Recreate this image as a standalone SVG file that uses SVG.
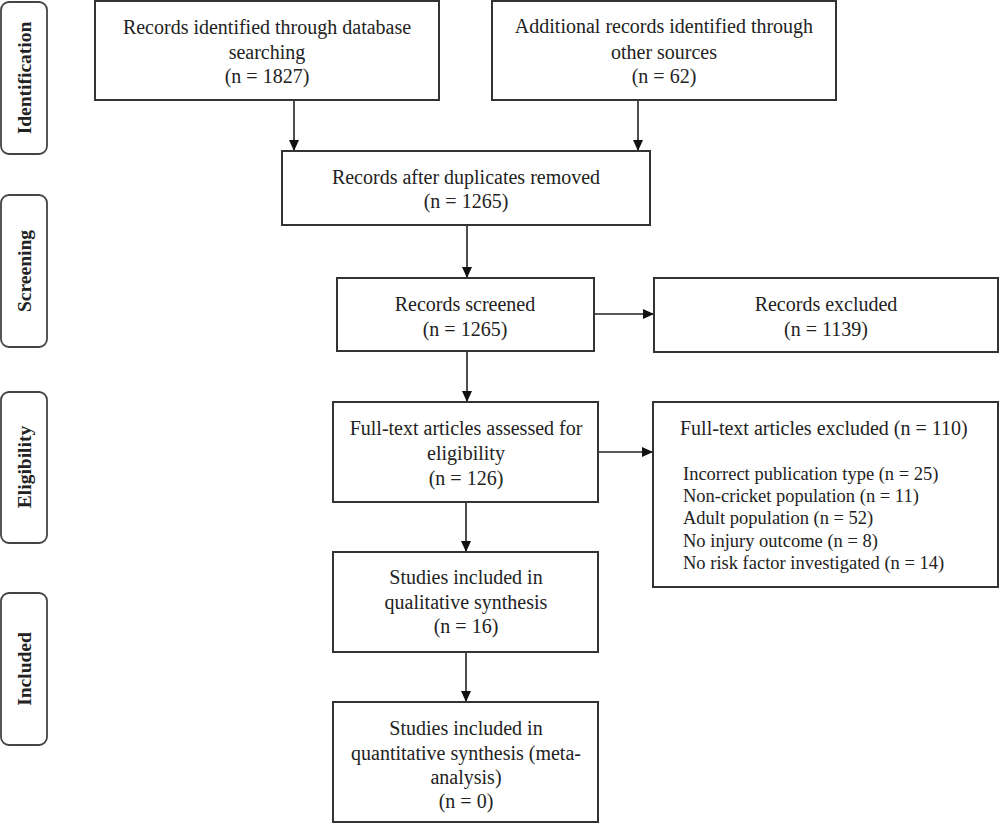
<svg xmlns="http://www.w3.org/2000/svg" width="1000" height="824" viewBox="0 0 1000 824">
<style>
.box{fill:#fff;stroke:#333;stroke-width:2}
.side{fill:#fff;stroke:#444;stroke-width:1.8}
.t{font-family:"Liberation Serif","Times New Roman",serif;font-size:20px;fill:#222;text-anchor:middle}
.l{font-family:"Liberation Serif","Times New Roman",serif;font-size:18.5px;fill:#222}
.h{font-family:"Liberation Serif","Times New Roman",serif;font-size:20px;fill:#222}
.s{font-family:"Liberation Serif","Times New Roman",serif;font-size:19.5px;font-weight:bold;fill:#222;text-anchor:middle}
.c{stroke:#222;stroke-width:1.6;fill:none;marker-end:url(#arr)}
</style>
<defs>
<marker id="arr" markerUnits="userSpaceOnUse" markerWidth="12" markerHeight="10" refX="11" refY="5" orient="auto">
<path d="M0,0 L11,5 L0,10 Z" fill="#111"/>
</marker>
</defs>
<rect width="1000" height="824" fill="#fff"/>
<g id="side-identification"><rect class="side" x="1" y="2" width="46" height="152" rx="8"/><text class="s" transform="translate(31,78) rotate(-90)">Identification</text></g>
<g id="side-screening"><rect class="side" x="1" y="195" width="46" height="152" rx="8"/><text class="s" transform="translate(31,271) rotate(-90)">Screening</text></g>
<g id="side-eligibility"><rect class="side" x="1" y="392" width="46" height="151" rx="8"/><text class="s" transform="translate(31,467) rotate(-90)">Eligibility</text></g>
<g id="side-included"><rect class="side" x="1" y="593" width="46" height="152" rx="8"/><text class="s" transform="translate(31,669) rotate(-90)">Included</text></g>
<g id="connectors">
<line class="c" x1="294" y1="100" x2="294" y2="151"/>
<line class="c" x1="638" y1="100" x2="638" y2="151"/>
<line class="c" x1="467" y1="225" x2="467" y2="278"/>
<line class="c" x1="594" y1="314" x2="654" y2="314"/>
<line class="c" x1="467" y1="351" x2="467" y2="402"/>
<line class="c" x1="598" y1="452" x2="653" y2="452"/>
<line class="c" x1="466" y1="502" x2="466" y2="552"/>
<line class="c" x1="466" y1="652" x2="466" y2="702"/>
</g>
<g id="n-database"><rect class="box" x="95" y="1" width="344" height="99"/>
<text class="t" x="267" y="34">Records identified through database</text>
<text class="t" x="267" y="59">searching</text>
<text class="t" x="267" y="83">(n = 1827)</text></g>
<g id="n-other"><rect class="box" x="492" y="1" width="344" height="99"/>
<text class="t" x="664" y="33">Additional records identified through</text>
<text class="t" x="664" y="59">other sources</text>
<text class="t" x="664" y="83">(n = 62)</text></g>
<g id="n-duplicates"><rect class="box" x="282" y="151" width="368" height="74"/>
<text class="t" x="466" y="184">Records after duplicates removed</text>
<text class="t" x="466" y="208">(n = 1265)</text></g>
<g id="n-screened"><rect class="box" x="337" y="278" width="257" height="73"/>
<text class="t" x="465" y="311">Records screened</text>
<text class="t" x="465" y="336">(n = 1265)</text></g>
<g id="n-excluded"><rect class="box" x="654" y="278" width="344" height="74"/>
<text class="t" x="826" y="311">Records excluded</text>
<text class="t" x="826" y="336">(n = 1139)</text></g>
<g id="n-fulltext"><rect class="box" x="333" y="402" width="265" height="100"/>
<text class="t" x="466" y="435">Full-text articles assessed for</text>
<text class="t" x="466" y="460">eligibility</text>
<text class="t" x="466" y="485">(n = 126)</text></g>
<g id="n-ftexcluded"><rect class="box" x="653" y="402" width="345" height="185"/>
<text class="h" x="680" y="435">Full-text articles excluded (n = 110)</text>
<text class="l" x="683" y="480">Incorrect publication type (n = 25)</text>
<text class="l" x="683" y="502">Non-cricket population (n = 11)</text>
<text class="l" x="683" y="524">Adult population (n = 52)</text>
<text class="l" x="683" y="547">No injury outcome (n = 8)</text>
<text class="l" x="683" y="569">No risk factor investigated (n = 14)</text></g>
<g id="n-qualitative"><rect class="box" x="333" y="552" width="265" height="100"/>
<text class="t" x="466" y="584">Studies included in</text>
<text class="t" x="466" y="609">qualitative synthesis</text>
<text class="t" x="466" y="633">(n = 16)</text></g>
<g id="n-quantitative"><rect class="box" x="333" y="702" width="265" height="120"/>
<text class="t" x="466" y="735">Studies included in</text>
<text class="t" x="466" y="760">quantitative synthesis (meta-</text>
<text class="t" x="466" y="784">analysis)</text>
<text class="t" x="466" y="808">(n = 0)</text></g>
</svg>
